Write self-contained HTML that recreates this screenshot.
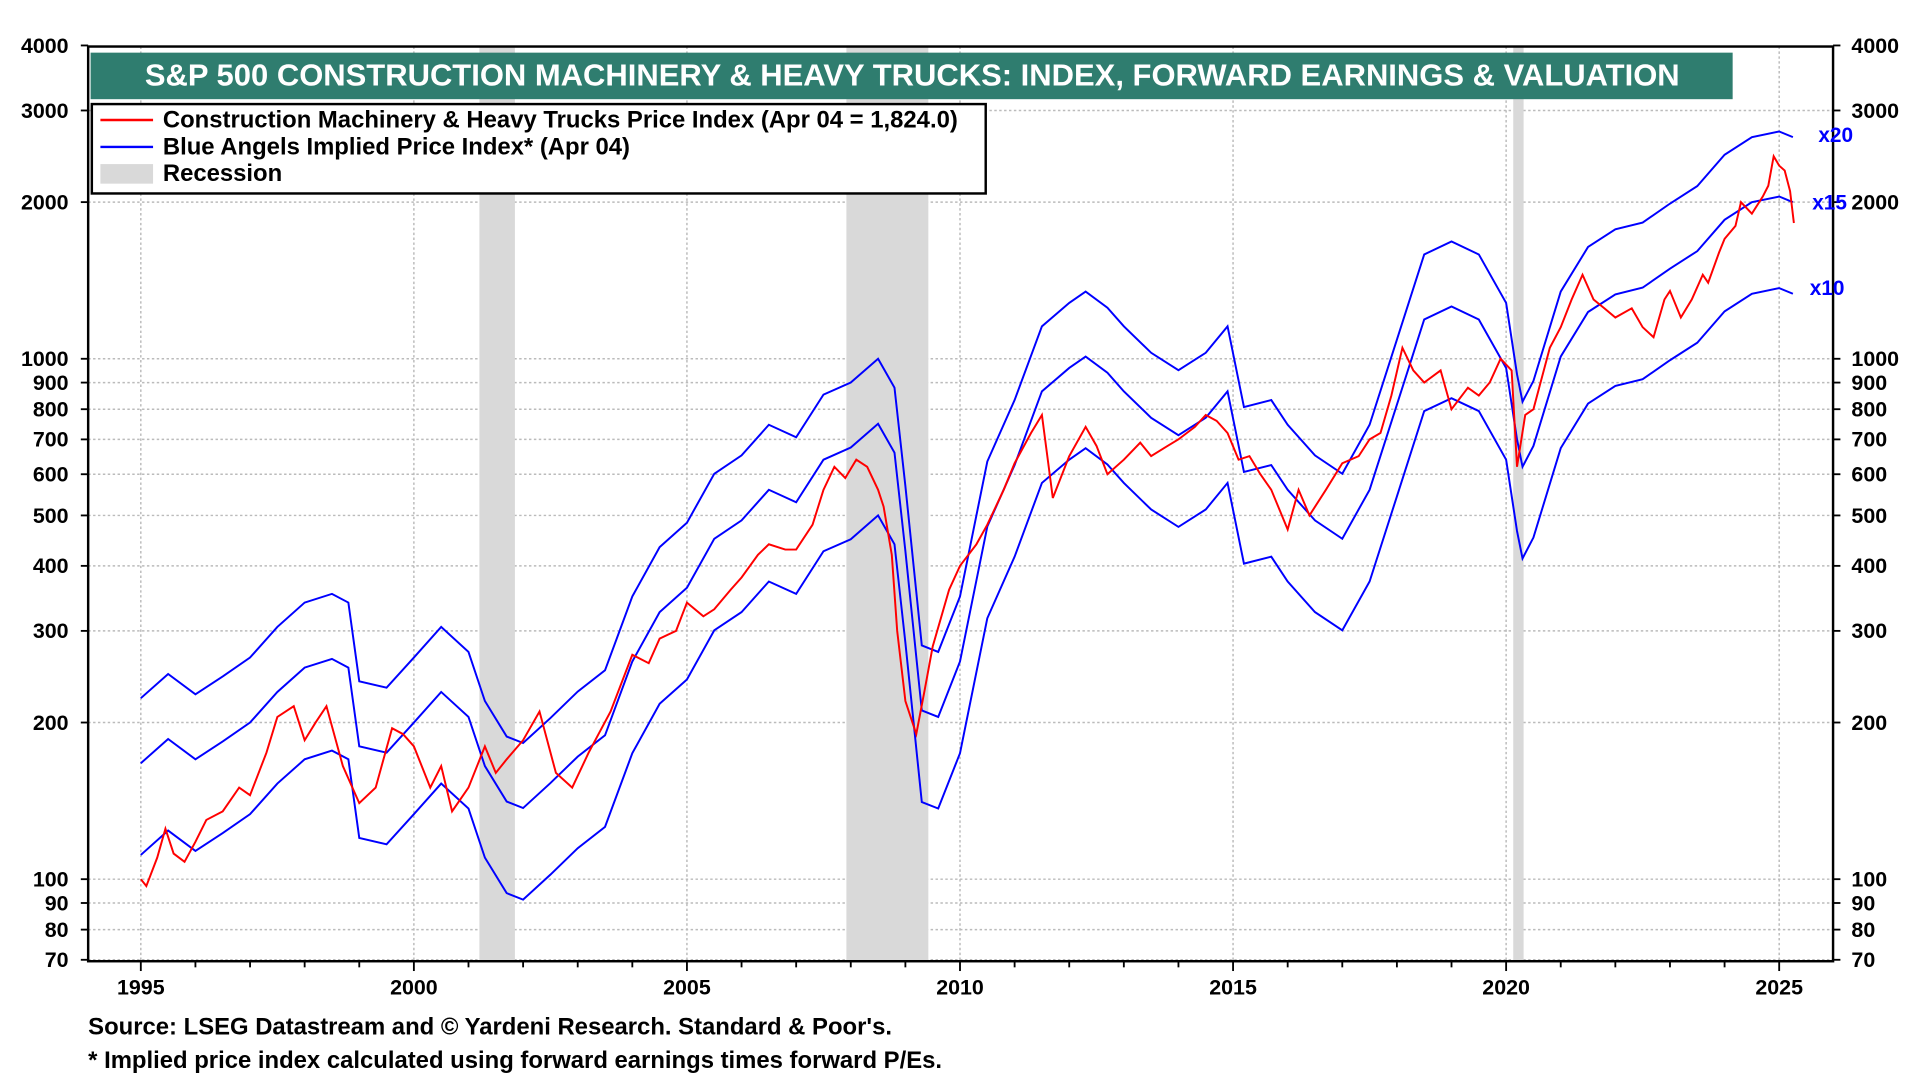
<!DOCTYPE html>
<html><head><meta charset="utf-8"><style>
html,body{margin:0;padding:0;background:#fff;}
svg{display:block;font-family:"Liberation Sans",Arial,sans-serif;font-weight:bold;}
</style></head><body>
<svg id="chart" width="1920" height="1080" viewBox="0 0 1568 882" preserveAspectRatio="none" xmlns="http://www.w3.org/2000/svg">
<g id="grid"></g>
<g id="rec"></g>
<g id="series"></g>
<rect x="72" y="38" width="1425" height="747" fill="none" stroke="#000" stroke-width="2"/>
<g id="axes"></g>
<rect x="74" y="43" width="1341" height="38" fill="#2f7d6f"/>
<text x="745" y="70" text-anchor="middle" fill="#fff" font-size="25.3">S&amp;P 500 CONSTRUCTION MACHINERY &amp; HEAVY TRUCKS: INDEX, FORWARD EARNINGS &amp; VALUATION</text>
<g>
<rect x="75" y="85" width="730" height="73" fill="#fff" stroke="#000" stroke-width="2"/>
<line x1="82" y1="98" x2="125" y2="98" stroke="#f00" stroke-width="2"/>
<text x="133" y="104" font-size="19.5">Construction Machinery &amp; Heavy Trucks Price Index (Apr 04 = 1,824.0)</text>
<line x1="82" y1="120" x2="125" y2="120" stroke="#00f" stroke-width="2"/>
<text x="133" y="126" font-size="19.5">Blue Angels Implied Price Index* (Apr 04)</text>
<rect x="82" y="134" width="43" height="16" fill="#d9d9d9"/>
<text x="133" y="148" font-size="19.5">Recession</text>
</g>
<text x="1485" y="116" fill="#00f" font-size="17">x20</text>
<text x="1480" y="171" fill="#00f" font-size="17">x15</text>
<text x="1478" y="241" fill="#00f" font-size="17">x10</text>
<text x="72" y="845" font-size="19.5">Source: LSEG Datastream and © Yardeni Research. Standard &amp; Poor's.</text>
<text x="72" y="872" font-size="19.5">* Implied price index calculated using forward earnings times forward P/Es.</text>
</svg>
<script>
const yearTicks=[1995,2000,2005,2010,2015,2020,2025];
const yTicks=[70,80,90,100,200,300,400,500,600,700,800,900,1000,2000,3000,4000];
const recessions=[[2001.2,2001.85],[2007.92,2009.42],[2020.13,2020.32]];
const priceYears=[1995.0,1995.1,1995.3,1995.45,1995.6,1995.8,1996.0,1996.2,1996.5,1996.8,1997.0,1997.3,1997.5,1997.8,1998.0,1998.2,1998.4,1998.7,1999.0,1999.3,1999.6,1999.8,2000.0,2000.3,2000.5,2000.7,2001.0,2001.3,2001.5,2001.7,2002.0,2002.3,2002.6,2002.9,2003.2,2003.6,2004.0,2004.3,2004.5,2004.8,2005.0,2005.3,2005.5,2005.8,2006.0,2006.3,2006.5,2006.8,2007.0,2007.3,2007.5,2007.7,2007.9,2008.1,2008.3,2008.5,2008.6,2008.75,2008.85,2009.0,2009.2,2009.35,2009.5,2009.8,2010.0,2010.3,2010.5,2010.8,2011.0,2011.3,2011.5,2011.7,2012.0,2012.3,2012.5,2012.7,2013.0,2013.3,2013.5,2013.8,2014.0,2014.3,2014.5,2014.7,2014.9,2015.1,2015.3,2015.5,2015.7,2016.0,2016.2,2016.4,2016.7,2017.0,2017.3,2017.5,2017.7,2017.9,2018.1,2018.3,2018.5,2018.8,2019.0,2019.3,2019.5,2019.7,2019.9,2020.1,2020.2,2020.35,2020.5,2020.8,2021.0,2021.2,2021.4,2021.6,2021.8,2022.0,2022.3,2022.5,2022.7,2022.9,2023.0,2023.2,2023.4,2023.6,2023.7,2023.9,2024.0,2024.2,2024.3,2024.5,2024.7,2024.8,2024.9,2025.0,2025.1,2025.2,2025.27];
const priceValues=[100,97,110,125,112,108,118,130,135,150,145,175,205,215,185,200,215,165,140,150,195,190,180,150,165,135,150,180,160,170,185,210,160,150,175,210,270,260,290,300,340,320,330,360,380,420,440,430,430,480,560,620,590,640,620,560,520,420,300,220,190,230,280,360,400,440,480,560,630,720,780,540,650,740,680,600,640,690,650,680,700,740,780,760,720,640,650,600,560,470,560,500,560,630,650,700,720,850,1050,950,900,950,800,880,850,900,1000,950,620,780,800,1050,1150,1300,1450,1300,1250,1200,1250,1150,1100,1300,1350,1200,1300,1450,1400,1600,1700,1800,2000,1900,2050,2150,2450,2350,2300,2100,1824];
const eYears=[1995.0,1995.5,1996.0,1996.5,1997.0,1997.5,1998.0,1998.5,1998.8,1999.0,1999.5,2000.0,2000.5,2001.0,2001.3,2001.7,2002.0,2002.5,2003.0,2003.5,2004.0,2004.5,2005.0,2005.5,2006.0,2006.5,2007.0,2007.5,2008.0,2008.5,2008.8,2009.0,2009.3,2009.6,2010.0,2010.5,2011.0,2011.5,2012.0,2012.3,2012.7,2013.0,2013.5,2014.0,2014.5,2014.9,2015.2,2015.7,2016.0,2016.5,2017.0,2017.5,2018.0,2018.5,2019.0,2019.5,2020.0,2020.2,2020.3,2020.5,2021.0,2021.5,2022.0,2022.5,2023.0,2023.5,2024.0,2024.5,2025.0,2025.25];
const x15Values=[167,186,170,184,200,229,255,265,255,180,175,200,229,205,165,141,137,153,172,189,262,326,363,451,489,560,530,640,675,750,660,427,211,205,262,476,625,866,960,1010,940,866,770,713,770,866,606,625,560,489,451,560,816,1190,1260,1190,960,700,620,680,1010,1230,1330,1370,1490,1610,1850,2000,2050,2000];
const multiples=[10,15,20];
const multNames=['x10','x15','x20'];

const X0=72,X1=1497,Y0=38,Y1=785;
function xs(yr){return 115+(yr-1995)*(1453-115)/30;}
function ys(v){return 718-Math.log10(v/100)*425;}
const NS='http://www.w3.org/2000/svg';
function mk(tag,attrs,parent){const e=document.createElementNS(NS,tag);for(const k in attrs)e.setAttribute(k,attrs[k]);parent.appendChild(e);return e;}
const grid=document.getElementById('grid'),axes=document.getElementById('axes'),rec=document.getElementById('rec'),ser=document.getElementById('series');

yTicks.forEach(v=>{
  const y=ys(v);
  if(v<4000){const l=mk('line',{x1:X0,x2:X1,y1:y,y2:y,stroke:'#bbb','stroke-width':1.2,'stroke-dasharray':'2,2'},grid);
  
  }
  const t1=mk('text',{x:56,y:y+6,'text-anchor':'end','font-size':17.5},axes);t1.textContent=v;
  
  
  const t2=mk('text',{x:1512,y:y+6,'font-size':17.5},axes);t2.textContent=v;
  
  
  mk('line',{x1:X0-6,x2:X0,y1:y,y2:y,stroke:'#000','stroke-width':1.5},axes);
  mk('line',{x1:X1,x2:X1+6,y1:y,y2:y,stroke:'#000','stroke-width':1.5},axes);
});
for(let yr=1995;yr<=2025;yr++){
  const x=xs(yr);
  mk('line',{x1:x,x2:x,y1:Y1,y2:Y1+(yr%5==0?8:5),stroke:'#000','stroke-width':1.5},axes);
}
yearTicks.forEach(yr=>{
  const x=xs(yr);
  const l=mk('line',{x1:x,x2:x,y1:Y0,y2:Y1,stroke:'#bbb','stroke-width':1.2,'stroke-dasharray':'2,2'},grid);
  
  
  const t=mk('text',{x:x,y:812,'text-anchor':'middle','font-size':17.5},axes);t.textContent=yr;
  
  
});
recessions.forEach(r=>{
  const b=mk('rect',{x:xs(r[0]),y:Y0,width:xs(r[1])-xs(r[0]),height:Y1-Y0,fill:'#d9d9d9'},rec);
  
  
});
multiples.forEach((m,i)=>{
  let d='';
  eYears.forEach((yr,j)=>{d+=(j?'L':'M')+xs(yr).toFixed(1)+','+ys(x15Values[j]/15*m).toFixed(1);});
  const p=mk('path',{d:d,fill:'none',stroke:'#0000ff','stroke-width':1.6},ser);
  
  
});
let d='';
priceYears.forEach((yr,j)=>{d+=(j?'L':'M')+xs(yr).toFixed(1)+','+ys(priceValues[j]).toFixed(1);});
const pp=mk('path',{d:d,fill:'none',stroke:'#ff0000','stroke-width':1.6},ser);


</script>
</body></html>
